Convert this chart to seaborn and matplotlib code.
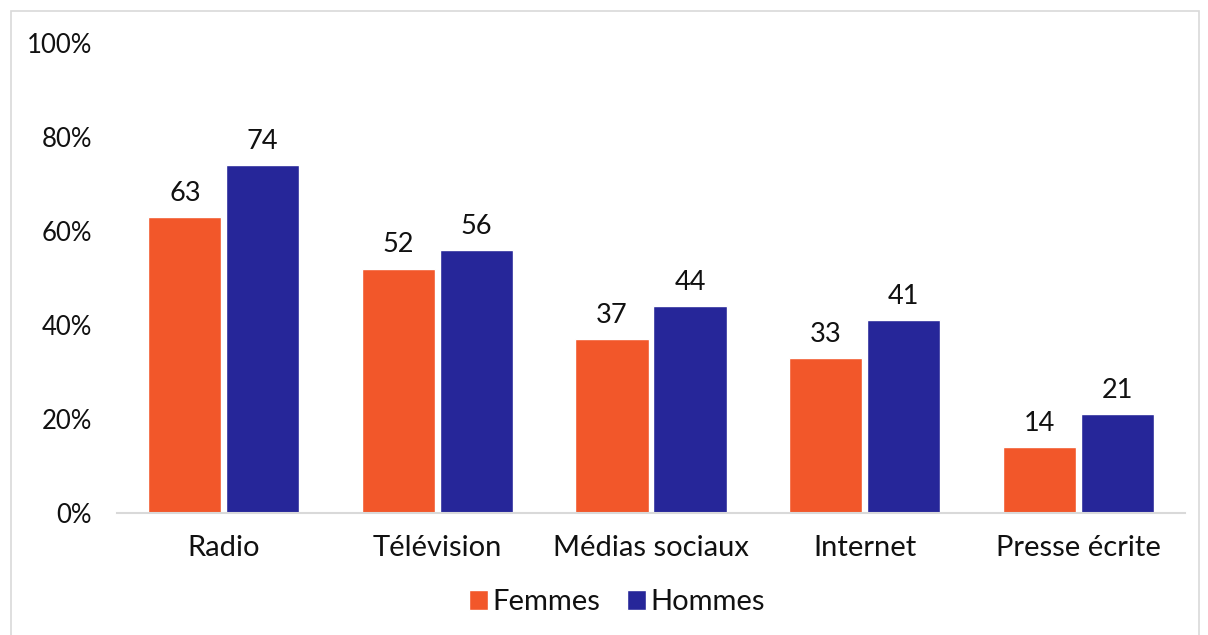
import matplotlib
matplotlib.use("Agg")
import matplotlib.pyplot as plt
import matplotlib.patches as mpatches
import seaborn as sns
import pandas as pd

categories = ["Radio", "Télévision", "Médias sociaux", "Internet", "Presse écrite"]
femmes = [63, 52, 37, 33, 14]
hommes = [74, 56, 44, 41, 21]
series_names = ["Femmes", "Hommes"]
yticks = [0, 20, 40, 60, 80, 100]
ytick_labels = ["0%", "20%", "40%", "60%", "80%", "100%"]

df = pd.DataFrame({
    "cat": categories * 2,
    "val": femmes + hommes,
    "sexe": [series_names[0]] * len(categories) + [series_names[1]] * len(categories),
})

sns.set_theme(style="white")
plt.rcParams["font.family"] = ["Lato", "DejaVu Sans"]

W, H = 1208, 635
fig = plt.figure(figsize=(W / 100, H / 100), dpi=100)
ax = fig.add_axes([117 / W, (H - 513) / H, (1185 - 117) / W, (513 - 43) / H])

palette = {"Femmes": "#F2572A", "Hommes": "#262699"}
sns.barplot(data=df, x="cat", y="val", hue="sexe", palette=palette, ax=ax,
            width=0.73, gap=0.06, saturation=1, legend=True)

for cont in ax.containers:
    ax.bar_label(cont, fmt="%d", padding=8, fontsize=19.5, color="#111111")

ax.set_ylim(0, 100)
ax.set_yticks(yticks)
ax.set_yticklabels(ytick_labels)
ax.set_xlabel("")
ax.set_ylabel("")
ax.tick_params(axis="y", length=0, pad=18, labelsize=18.5, labelcolor="#111111")
ax.tick_params(axis="x", length=0, pad=16, labelsize=21, labelcolor="#111111")
for s in ["top", "right", "left"]:
    ax.spines[s].set_visible(False)
ax.spines["bottom"].set_color("#d9d9d9")
ax.spines["bottom"].set_linewidth(1.5)

handles, labels = ax.get_legend_handles_labels()
ax.legend(handles, labels, loc="center", bbox_to_anchor=(0.468, -0.19),
          ncol=2, frameon=False, fontsize=21, handlelength=0.65, handleheight=0.65,
          handletextpad=0.15, columnspacing=0.9, labelcolor="#111111")

border = mpatches.Rectangle((10.5 / W, -0.02), (1199 - 10.5) / W, (H - 10.5) / H + 0.02,
                            transform=fig.transFigure, fill=False, edgecolor="#d9d9d9",
                            linewidth=1.2, clip_on=False)
fig.patches.append(border)

fig.savefig("out.png", dpi=100, facecolor="white")
